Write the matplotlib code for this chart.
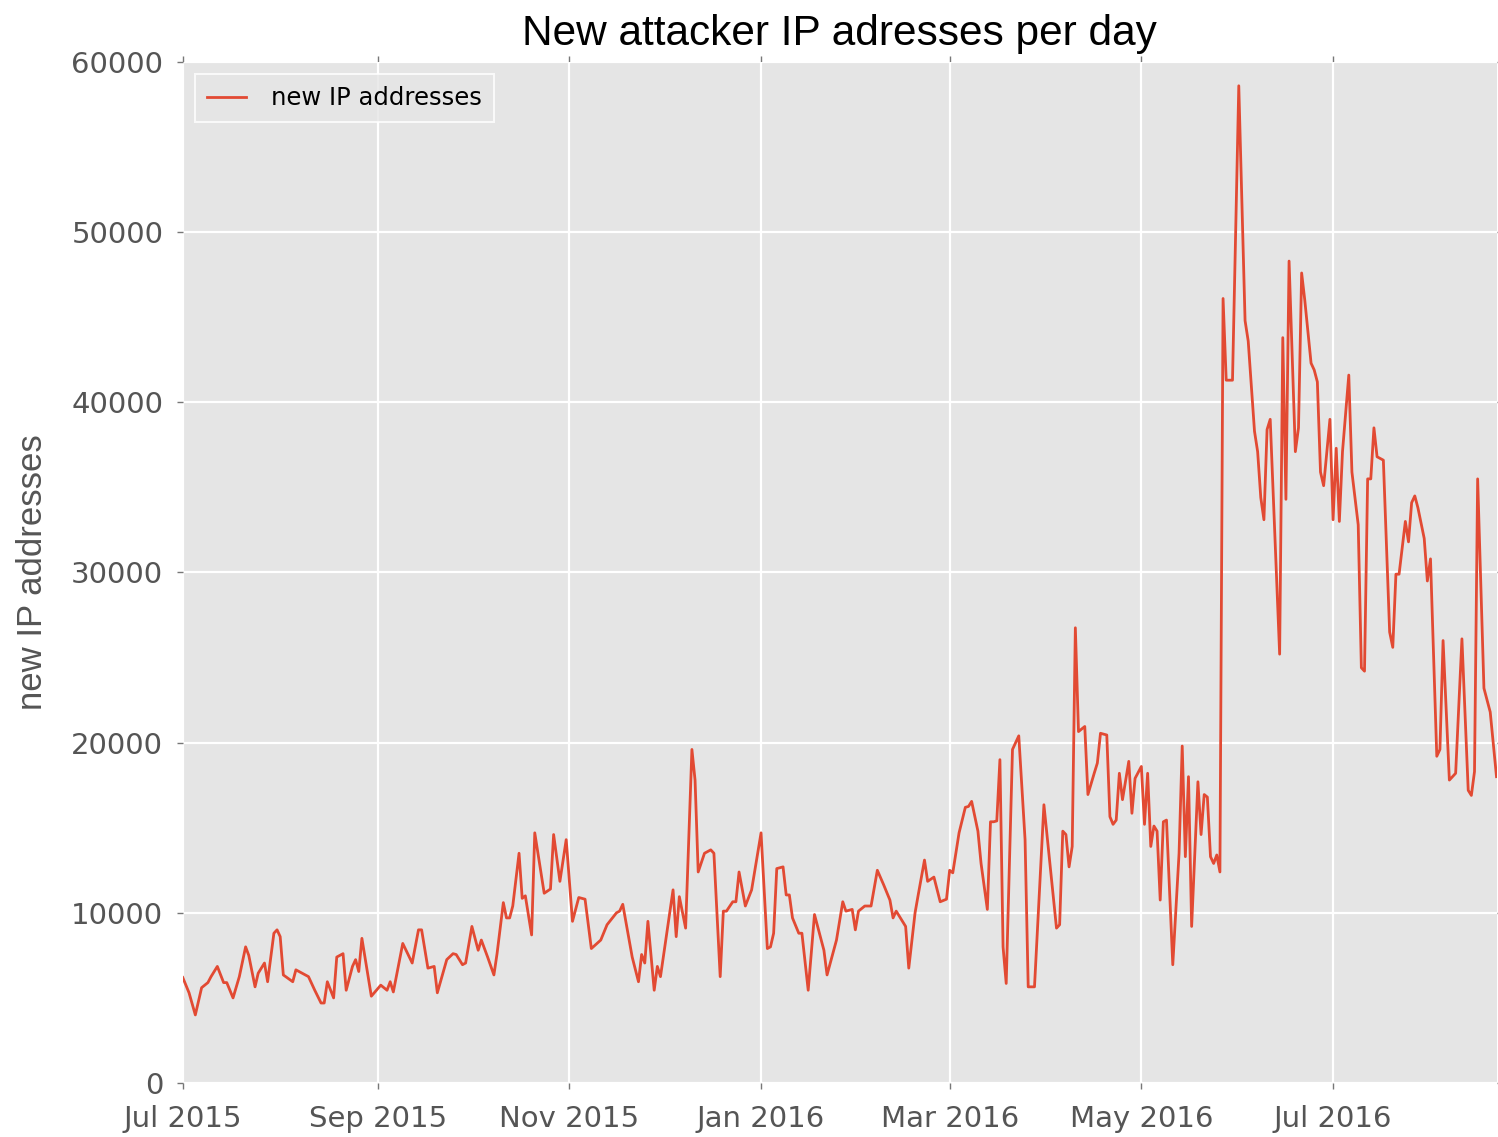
import numpy as np
import pandas as pd
import matplotlib
matplotlib.use("Agg")
import matplotlib.pyplot as plt
import matplotlib.dates as mdates

# Data: day offset from 2015-07-01 and new IPs (thousands)
start = pd.Timestamp("2015-07-01")
day_offset = [
    0, 2, 4, 6, 8, 9, 11, 13, 14, 16, 18, 20, 21, 23, 24, 26, 27, 29, 30, 31,
    32, 35, 36, 38, 40, 42, 44, 45, 46, 48, 49, 51, 52, 54, 55, 56, 57, 60, 63, 65,
    66, 67, 70, 73, 75, 76, 78, 80, 81, 84, 86, 87, 89, 90, 92, 94, 95, 97, 99, 100,
    102, 103, 104, 105, 107, 108, 109, 111, 112, 115, 117, 118, 120, 122, 124, 126, 128, 130, 133, 135,
    138, 139, 140, 143, 145, 146, 147, 148, 150, 151, 152, 154, 156, 157, 158, 160, 162, 163, 164, 166,
    168, 169, 171, 172, 173, 175, 176, 177, 179, 181, 184, 186, 187, 188, 189, 191, 192, 193, 194, 196,
    197, 199, 201, 204, 205, 208, 210, 211, 213, 214, 215, 217, 219, 221, 223, 225, 226, 227, 230, 231,
    233, 234, 236, 237, 239, 241, 243, 244, 245, 247, 249, 250, 251, 253, 254, 256, 257, 258, 259, 260,
    261, 262, 264, 266, 268, 269, 271, 274, 278, 279, 280, 281, 282, 283, 284, 285, 287, 288, 290, 291,
    292, 294, 295, 296, 297, 298, 299, 301, 302, 303, 305, 306, 307, 308, 309, 310, 311, 312, 313, 315,
    317, 318, 319, 320, 321, 323, 324, 325, 326, 327, 328, 329, 330, 331, 332, 334, 336, 338, 339, 341,
    342, 343, 344, 345, 346, 349, 350, 351, 352, 354, 355, 356, 357, 359, 360, 361, 362, 363, 365, 366,
    367, 368, 369, 371, 372, 374, 375, 376, 377, 378, 379, 380, 382, 384, 385, 386, 387, 389, 390, 391,
    392, 393, 395, 396, 397, 399, 400, 401, 403, 405, 407, 409, 410, 411, 412, 414, 416, 418,
]
new_ips_k = [
    6.2, 5.3, 4.0, 5.6, 5.9, 6.25, 6.85, 5.9, 5.9, 5.0, 6.25, 8.0, 7.5, 5.65, 6.45, 7.05, 5.95, 8.8, 9.0, 8.6,
    6.35, 5.95, 6.65, 6.45, 6.25, 5.45, 4.7, 4.7, 5.95, 5.0, 7.4, 7.6, 5.45, 6.85, 7.25, 6.55, 8.5, 5.1, 5.75, 5.45,
    5.95, 5.35, 8.2, 7.05, 9.0, 9.0, 6.75, 6.85, 5.3, 7.25, 7.6, 7.55, 6.95, 7.05, 9.2, 7.8, 8.4, 7.4, 6.35, 7.6,
    10.6, 9.7, 9.7, 10.4, 13.5, 10.85, 11.0, 8.7, 14.7, 11.15, 11.4, 14.6, 11.85, 14.3, 9.5, 10.9, 10.8, 7.9, 8.4, 9.3,
    10.0, 10.1, 10.5, 7.4, 5.95, 7.55, 7.05, 9.5, 5.45, 6.85, 6.25, 8.8, 11.35, 8.6, 10.95, 9.1, 19.6, 17.8, 12.4, 13.5,
    13.7, 13.5, 6.25, 10.1, 10.1, 10.65, 10.65, 12.4, 10.4, 11.35, 14.7, 7.9, 8.0, 8.8, 12.6, 12.7, 11.05, 11.05, 9.7, 8.8,
    8.8, 5.45, 9.9, 7.8, 6.35, 8.4, 10.65, 10.1, 10.2, 9.0, 10.1, 10.4, 10.4, 12.5, 11.65, 10.75, 9.7, 10.1, 9.2, 6.75,
    10.0, 11.05, 13.1, 11.85, 12.1, 10.65, 10.8, 12.5, 12.35, 14.7, 16.2, 16.25, 16.55, 14.8, 12.9, 10.2, 15.35, 15.35, 15.4, 19.0,
    8.0, 5.85, 19.6, 20.4, 14.3, 5.65, 5.65, 16.35, 9.1, 9.3, 14.8, 14.6, 12.7, 13.9, 26.75, 20.65, 20.95, 16.95, 18.2, 18.8,
    20.55, 20.45, 15.65, 15.2, 15.45, 18.2, 16.65, 18.9, 15.85, 17.9, 18.6, 15.2, 18.2, 13.9, 15.1, 14.8, 10.75, 15.35, 15.45, 6.95,
    13.5, 19.8, 13.3, 18.0, 9.2, 17.7, 14.6, 16.95, 16.8, 13.3, 12.9, 13.4, 12.4, 46.1, 41.3, 41.3, 58.6, 44.8, 43.6, 38.3,
    37.1, 34.4, 33.1, 38.4, 39.0, 25.2, 43.8, 34.3, 48.3, 37.1, 38.5, 47.6, 46.0, 42.3, 41.9, 41.2, 35.9, 35.1, 39.0, 33.1,
    37.3, 33.0, 37.1, 41.6, 35.9, 32.8, 24.4, 24.2, 35.5, 35.5, 38.5, 36.8, 36.6, 26.5, 25.6, 29.9, 29.9, 33.0, 31.8, 34.1,
    34.5, 33.8, 32.0, 29.5, 30.8, 19.2, 19.6, 26.0, 17.8, 18.2, 26.1, 17.2, 16.9, 18.3, 35.5, 23.2, 21.8, 18.0,
]
y_ticks = [0, 10000, 20000, 30000, 40000, 50000, 60000]

dates = start + pd.to_timedelta(day_offset, unit="D")
values = np.array(new_ips_k) * 1000

sans = ["Liberation Sans", "DejaVu Sans"]

fig = plt.figure(figsize=(14.98, 11.37), dpi=100)
ax = fig.add_axes([0.122, 0.0475, 0.877, 0.898])
ax.set_facecolor("#E5E5E5")
for s in ax.spines.values():
    s.set_visible(False)
ax.grid(True, color="white", linewidth=1.6, linestyle="-")
ax.set_axisbelow(True)

ax.plot(dates, values, color="#E24A33", linewidth=2.0, label="new IP addresses")

ax.set_xlim(start, start + pd.Timedelta(days=418))
ax.set_ylim(0, 60000)
ax.set_yticks(y_ticks)
ax.xaxis.set_major_locator(mdates.MonthLocator(bymonth=[1, 3, 5, 7, 9, 11]))
ax.xaxis.set_major_formatter(mdates.DateFormatter("%b %Y"))

ax.tick_params(axis="both", direction="out", length=4, width=1, color="#777777",
               labelcolor="#555555", labelsize=21, top=True, right=True)
ax.tick_params(axis="y", pad=10)
ax.tick_params(axis="x", pad=12)

ax.set_title("New attacker IP adresses per day", fontsize=30.5, family=sans, pad=12)
ax.set_ylabel("new IP addresses", fontsize=25, color="#555555", family=sans, labelpad=12)
ax.yaxis.set_label_coords(-0.102, 0.5)

leg = ax.legend(loc="upper left", fontsize=17.5, frameon=True, fancybox=False,
                borderpad=0.5, handlelength=1.6, handletextpad=1.05)
leg.get_frame().set_facecolor("#E5E5E5")
leg.get_frame().set_edgecolor("white")
leg.get_frame().set_linewidth(1.5)

fig.savefig("out.png", dpi=100)
